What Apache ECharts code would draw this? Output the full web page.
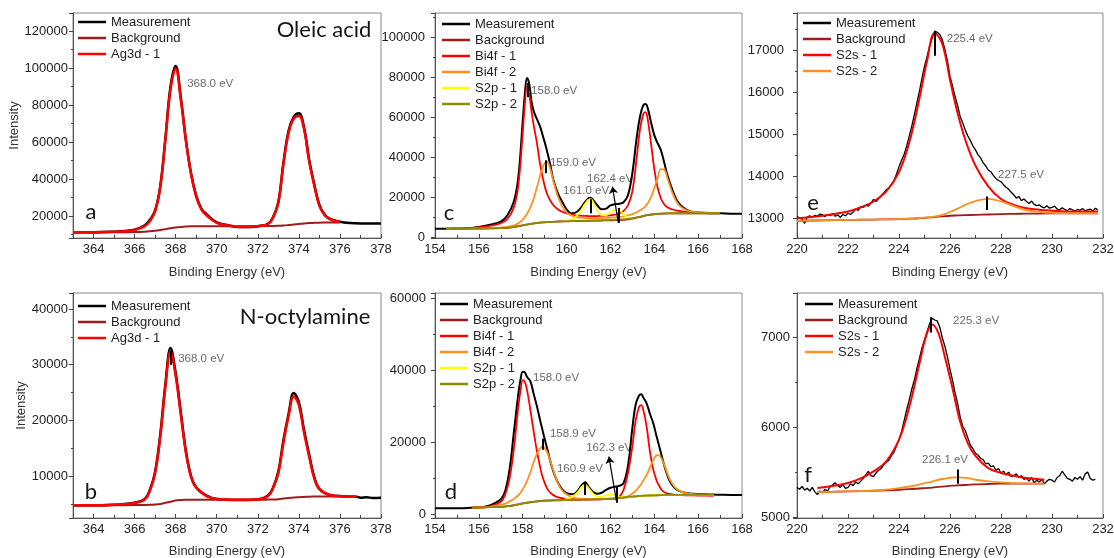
<!DOCTYPE html>
<html>
<head>
<meta charset="utf-8">
<script src="https://cdn.jsdelivr.net/npm/echarts@6/dist/echarts.min.js"></script>
<style>
  html, body { margin: 0; padding: 0; background: #fff; }
  #main { width: 1114px; height: 558px; }
</style>
</head>
<body>
<div id="main"></div>
<script>
// ---------- panel a : Ag3d, oleic acid ----------
const aEnergy = [363, 364, 365, 365.5, 366, 366.5, 366.75, 367, 367.25, 367.5, 367.75, 368, 368.25, 368.5, 368.75, 369, 369.25, 369.5, 370, 370.5,
  371, 371.5, 372, 372.5, 372.75, 373, 373.25, 373.5, 373.75, 374, 374.25, 374.5, 374.75, 375, 375.25, 375.5, 376, 376.5, 377, 378];
const aMeasurement = [11200, 11200, 11500, 11900, 12600, 15000, 18000, 23000, 36000, 62000, 90000, 101000, 84000, 61000, 43000, 31000, 24000, 21000, 16500, 15100,
  14100, 14000, 14500, 15800, 19500, 27500, 49000, 66000, 73500, 75500, 68000, 50500, 37000, 26000, 20800, 18500, 16900, 16200, 16000, 16000];
const aAg3d = [11200, 11200, 11450, 11800, 12400, 14500, 17300, 22500, 35500, 61000, 88500, 99500, 83000, 60500, 42500, 30500, 23500, 20300, 16300, 15000,
  14200, 14100, 14500, 15600, 19200, 27000, 48000, 65000, 72500, 74000, 67000, 49500, 36500, 25500, 20500, 18300, 16700, null, null, null];
const aBackground = [11100, 11100, 11200, 11250, 11300, 11500, 11700, 12000, 12400, 12900, 13400, 13800, 14100, 14300, 14400, 14400, 14400, 14400, 14400, 14400,
  14400, 14450, 14500, 14550, 14600, 14700, 14850, 15100, 15400, 15700, 16000, 16200, 16300, 16400, 16450, 16500, 16500, null, null, null];
const aNotes = ['368.0 eV'];
const aNoteAt = [[368.56, 91350]];

// ---------- panel b : Ag3d, N-octylamine ----------
const bEnergy = [363, 364, 365, 365.5, 366, 366.5, 366.75, 367, 367.25, 367.5, 367.75, 368, 368.25, 368.5, 368.75, 369, 369.5, 370, 371, 372,
  372.5, 372.75, 373, 373.25, 373.5, 373.75, 374, 374.25, 374.5, 374.75, 375, 375.5, 376, 376.5, 376.8, 377, 377.3, 377.6, 378];
const bMeasurement = [4750, 4750, 4850, 5000, 5200, 5900, 7600, 10800, 17500, 26500, 33000, 28500, 21500, 14500, 10000, 8000, 6500, 5900, 5700, 5800,
  6500, 8000, 10800, 16500, 21200, 24900, 23300, 18300, 13900, 9800, 7700, 6600, 6400, 6300, 6300, 6100, 6200, 6050, 6100];
const bAg3d = [4750, 4750, 4850, 4950, 5150, 5800, 7400, 10500, 17000, 26000, 32300, 28000, 21000, 14200, 9800, 7900, 6400, 5900, 5750, 5800,
  6400, 7900, 10500, 16000, 20800, 24300, 22700, 17800, 13500, 9600, 7700, 6600, 6400, 6300, 6300, null, null, null, null];
const bBackground = [4700, 4700, 4750, 4780, 4800, 4820, 4850, 4900, 5000, 5200, 5400, 5600, 5700, 5750, 5750, 5750, 5750, 5750, 5750, 5750,
  5780, 5800, 5850, 5950, 6050, 6150, 6200, 6250, 6300, 6320, 6330, 6340, 6350, 6350, 6350, null, null, null, null];
const bNotes = ['368.0 eV'];
const bNoteAt = [[368.12, 31090]];
const bTicks = [[367.76, 30000, 32500]];

// ---------- panel c : Bi4f / S2p, oleic acid ----------
const cEnergy = [154, 154.5, 155, 155.5, 156, 156.5, 157, 157.3, 157.6, 157.8, 158.0, 158.1, 158.2, 158.3, 158.4, 158.5, 158.65, 158.8, 158.95, 159.1,
  159.25, 159.4, 159.6, 159.8, 160.0, 160.2, 160.4, 160.6, 160.8, 161.0, 161.1, 161.2, 161.4, 161.6, 161.8, 162.0, 162.2, 162.4, 162.6, 162.8,
  163.0, 163.2, 163.35, 163.5, 163.6, 163.7, 163.85, 164.0, 164.15, 164.3, 164.45, 164.6, 164.8, 165.0, 165.2, 165.5, 165.8, 166.2, 166.6, 167.0,
  167.5, 168.0];
const cMeasurement = [4300, 4300, 4400, 4500, 5200, 6300, 7800, 11000, 18000, 30000, 58000, 72000, 79500, 76500, 68000, 63000, 59000, 55000, 49500, 43500,
  36500, 28600, 22000, 17800, 14000, 12000, 12300, 14000, 17000, 19500, 19800, 18800, 16000, 14000, 14300, 15900, 16500, 16800, 17500, 21000,
  32000, 50000, 60300, 66000, 66500, 64500, 57500, 51000, 47000, 43500, 37500, 31000, 24500, 19000, 16000, 13600, 12500, 12200, 12000, 12000,
  11800, 11700];
const cBi4f1 = [null, 4300, 4350, 4450, 4900, 5700, 7000, 9200, 15000, 26000, 52000, 67000, 75300, 71000, 63000, 56000, 47000, 36000, 28000, 22000,
  18500, 16000, 14000, 12800, 12000, 11400, 11000, 10800, 10700, 10600, 10600, 10600, 10600, 10700, 10800, 11000, 11300, 11900, 13200, 16000,
  23000, 40000, 54000, 61500, 62500, 59000, 47000, 34000, 25000, 19500, 16500, 15000, 14000, 13400, 13000, 12600, 12400, 12200, 12100, 12050,
  null, null];
const cBi4f2 = [null, 4300, 4300, 4350, 4400, 4550, 4850, 5200, 6000, 7000, 8800, 10200, 11800, 13800, 16300, 19300, 25000, 31000, 36000, 37800,
  34500, 28000, 20500, 15500, 12500, 11000, 10200, 9800, 9600, 9500, 9500, 9500, 9500, 9600, 9700, 9800, 10000, 10200, 10500, 11000,
  11600, 12500, 13500, 14500, 15500, 17000, 20000, 24500, 29500, 34000, 33800, 29500, 23000, 18000, 15300, 13400, 12700, 12400, 12200, 12100,
  null, null];
const cS2p1 = [null, null, null, null, null, null, null, null, null, null, null, null, null, null, null, null, null, null, null, null,
  null, null, null, 8000, 8300, 8800, 10000, 12500, 16000, 18800, 19000, 17800, 13500, 11000, 11000, 12500, 13600, 13400, 11500, 9800,
  9300, null, null, null, null, null, null, null, null, null, null, null, null, null, null, null, null, null, null, null,
  null, null];
const cS2p2 = [null, 4300, 4300, 4350, 4400, 4500, 4650, 4800, 5200, 5600, 6000, 6200, 6400, 6600, 6800, 7000, 7200, 7400, 7500, 7600,
  7700, 7800, 7900, 8000, 8050, 8100, 8150, 8200, 8250, 8300, 8320, 8350, 8400, 8500, 8600, 8700, 8800, 8900, 9050, 9200,
  9500, 9900, 10300, 10700, 11000, 11200, 11400, 11600, 11700, 11800, 11900, 11950, 12000, 12000, 12000, 12000, 12000, 12000, 12000, 12000,
  null, null];
const cBackground = [null, 4250, 4250, 4300, 4350, 4450, 4600, 4750, 5150, 5550, 5950, 6150, 6350, 6550, 6750, 6950, 7150, 7350, 7450, 7550,
  7650, 7750, 7850, 7950, 8000, 8050, 8100, 8150, 8200, 8250, 8270, 8300, 8350, 8400, 8450, 8500, 8550, 8600, 8700, 8900,
  9300, 9800, 10200, 10600, 10900, 11100, 11300, 11500, 11650, 11750, 11850, 11900, 11950, 11950, 11950, 11950, 11950, 11950, 11950, 11950,
  null, null];
const cNotes = ['158.0 eV', '159.0 eV', '161.0 eV', '162.4 eV'];
const cNoteAt = [[158.38, 73150], [159.24, 37150], [159.84, 23300], [160.93, 29150]];
const cTicks = [[158.23, 70000, 77000], [159.05, 32000, 38500], [161.1, 12000, 19000], [162.36, 7300, 14600]];
const cArrow = [[162.36, 7300], [162.09, 25300]];

// ---------- panel d : Bi4f / S2p, N-octylamine ----------
const dEnergy = [154, 154.5, 155, 155.5, 155.7, 156, 156.5, 157, 157.2, 157.4, 157.6, 157.8, 157.9, 158.0, 158.1, 158.2, 158.35, 158.5, 158.65, 158.8,
  158.9, 159.0, 159.15, 159.3, 159.5, 159.7, 159.9, 160.1, 160.3, 160.5, 160.7, 160.85, 161.0, 161.2, 161.4, 161.6, 161.8, 162.0, 162.2, 162.4,
  162.6, 162.8, 163.0, 163.15, 163.3, 163.4, 163.5, 163.65, 163.8, 163.95, 164.1, 164.2, 164.35, 164.5, 164.7, 164.9, 165.1, 165.4, 165.8, 166.2,
  166.7, 167.0, 167.5, 168.0];
const dMeasurement = [1700, 1700, 1700, 1750, 1850, 1900, 2500, 4200, 6500, 12500, 23000, 33500, 37500, 39700, 39500, 38200, 37000, 33500, 30000, 26000,
  23500, 21000, 17500, 13800, 10200, 7800, 6300, 5700, 5600, 6500, 8200, 8900, 7700, 6300, 5700, 6000, 6800, 7400, 7700, 7900,
  8700, 13500, 24000, 30500, 33000, 33400, 32500, 30900, 28000, 25400, 21800, 19500, 16000, 12600, 9300, 7500, 6600, 6000, 5700, 5570,
  5500, 5450, 5400, 5400];
const dBi4f1 = [null, null, null, null, 1850, 1900, 2200, 3500, 5500, 10000, 18500, 30000, 34500, 37300, 36800, 34500, 29000, 23000, 17500, 13000,
  10500, 8800, 6800, 5800, 5000, 4600, 4400, 4300, 4250, 4200, 4200, 4200, 4200, 4200, 4200, 4200, 4250, 4300, 4400, 4800,
  6800, 11500, 19000, 26000, 29800, 30400, 29000, 24500, 17500, 12500, 9500, 8200, 6700, 6000, 5700, 5500, 5400, 5300, 5250, 5200,
  5150, null, null, null];
const dBi4f2 = [null, null, null, null, 1850, 1900, 2100, 2600, 3000, 3600, 4300, 5300, 6000, 7000, 8000, 9300, 11700, 14500, 16800, 18400,
  18850, 18500, 16800, 14000, 10300, 7500, 6000, 5200, 4700, 4450, 4350, 4300, 4300, 4300, 4300, 4300, 4350, 4400, 4500, 4600,
  4800, 5100, 5800, 6500, 7600, 8400, 9400, 11000, 13000, 15000, 16400, 16500, 15300, 13000, 9800, 7800, 6700, 6000, 5600, 5450,
  5400, null, null, null];
const dS2p1 = [null, null, null, null, null, null, null, null, null, null, null, null, null, null, null, null, null, null, null, null,
  null, null, null, null, null, null, 4100, 4400, 5000, 6100, 7700, 8200, 7300, 5800, 4900, 4900, 5300, 5600, 5200, 4800,
  4750, 4850, 4950, 5050, 5120, 5170, 5200, 5230, 5260, 5290, 5320, 5340, 5370, 5390, 5400, 5400, 5400, 5400, 5400, 5400,
  5400, null, null, null];
const dS2p2 = [null, null, null, null, 1860, 1900, 2000, 2100, 2200, 2350, 2550, 2800, 2930, 3050, 3150, 3250, 3380, 3500, 3620, 3720,
  3800, 3830, 3860, 3880, 3900, 3950, 3980, 4000, 4030, 4070, 4100, 4130, 4150, 4180, 4210, 4250, 4300, 4350, 4450, 4600,
  4740, 4850, 4950, 5030, 5100, 5130, 5200, 5230, 5260, 5290, 5310, 5330, 5360, 5390, 5400, 5400, 5400, 5400, 5400, 5400,
  5400, null, null, null];
const dBackground = [null, null, null, null, 1840, 1880, 1980, 2080, 2180, 2330, 2530, 2780, 2900, 3020, 3120, 3220, 3350, 3470, 3590, 3690,
  3770, 3800, 3830, 3850, 3870, 3920, 3950, 3970, 4000, 4040, 4070, 4100, 4120, 4150, 4180, 4220, 4260, 4300, 4380, 4500,
  4650, 4800, 4920, 5000, 5070, 5110, 5180, 5210, 5240, 5270, 5290, 5310, 5340, 5370, 5380, 5380, 5380, 5380, 5380, 5380,
  5380, null, null, null];
const dNotes = ['158.0 eV', '158.9 eV', '160.9 eV', '162.3 eV'];
const dNoteAt = [[158.47, 37900], [159.24, 22290], [159.56, 12540], [160.89, 18390]];
const dTicks = [[158.92, 18000, 21000], [160.81, 5400, 9100], [162.28, 3250, 7700]];
const dArrow = [[162.28, 3530], [161.93, 16070]];

// ---------- panel e : S2s, oleic acid ----------
const eEnergy = [220.0, 220.1, 220.2, 220.3, 220.4, 220.5, 220.6, 220.7, 220.8, 220.9, 221.0, 221.1, 221.2, 221.3, 221.4, 221.5, 221.6, 221.7, 221.8, 221.9,
  222.0, 222.1, 222.2, 222.3, 222.4, 222.5, 222.6, 222.7, 222.8, 222.9, 223.0, 223.1, 223.2, 223.3, 223.4, 223.5, 223.6, 223.7, 223.8, 223.9,
  224.0, 224.1, 224.2, 224.3, 224.4, 224.5, 224.6, 224.7, 224.8, 224.9, 225.0, 225.1, 225.2, 225.3, 225.4, 225.5, 225.6, 225.7, 225.8, 225.9,
  226.0, 226.1, 226.2, 226.3, 226.4, 226.5, 226.6, 226.7, 226.8, 226.9, 227.0, 227.1, 227.2, 227.3, 227.4, 227.5, 227.6, 227.7, 227.8, 227.9,
  228.0, 228.1, 228.2, 228.3, 228.4, 228.5, 228.6, 228.7, 228.8, 228.9, 229.0, 229.1, 229.2, 229.3, 229.4, 229.5, 229.6, 229.7, 229.8, 229.9,
  230.0, 230.1, 230.2, 230.3, 230.4, 230.5, 230.6, 230.7, 230.8, 230.9, 231.0, 231.1, 231.2, 231.3, 231.4, 231.5, 231.6, 231.7, 231.8];
const eMeasurement = [13040, 13010, 12980, 12880, 13030, 13060, 13020, 13070, 13050, 13100, 13080, 13040, 13090, 13060, 13110, 13050, 13080, 13020, 13090, 13060,
  13120, 13090, 13150, 13220, 13190, 13280, 13260, 13310, 13290, 13360, 13450, 13400, 13470, 13540, 13600, 13680, 13720, 13810, 13900, 14050,
  14230, 14380, 14520, 14720, 14950, 15190, 15460, 15740, 16020, 16330, 16620, 16850, 17100, 17290, 17460, 17430, 17380, 17250, 17020, 16750,
  16380, 16150, 15900, 15680, 15420, 15270, 15100, 14960, 14850, 14720, 14630, 14510, 14440, 14320, 14250, 14150, 14110, 14020, 13950, 13900,
  13870, 13800, 13740, 13690, 13620, 13560, 13480, 13520, 13420, 13460, 13400, 13350, 13410, 13330, 13300, 13320, 13270, 13250, 13300, 13240,
  13260, 13290, 13220, 13200, 13250, 13210, 13180, 13230, 13200, 13170, 13210, 13190, 13230, 13180, 13200, 13220, 13170, 13240, 13200];
const eFitEnergy = [220, 221, 222, 222.5, 223, 223.5, 224, 224.4, 224.8, 225.1, 225.4, 225.7, 226.0, 226.3, 226.6, 227, 227.5, 228, 228.5, 229, 230, 231, 231.8];
const eS2s1 = [13000, 13060, 13160, 13260, 13400, 13640, 14100, 14800, 15850, 16750, 17410, 17150, 16300, 15500, 14870, 14250, 13760, 13460, 13320, 13240, 13180, 13160, 13160];
const eS2s2 = [12940, 12950, 12960, 12965, 12970, 12975, 12980, 12990, 13005, 13020, 13040, 13080, 13150, 13230, 13320, 13410, 13460, 13400, 13290, 13190, 13130, 13120, 13120];
const eBackground = [12940, 12950, 12960, 12965, 12970, 12975, 12980, 12990, 13000, 13015, 13030, 13045, 13060, 13068, 13075, 13080, 13090, 13100, 13105, 13110, 13115, 13120, 13120];
const eNotes = ['225.4 eV', '227.5 eV'];
const eNoteAt = [[225.87, 17270], [227.88, 14030]];
const eTicks = [[225.41, 16870, 17450], [227.46, 13200, 13520]];

// ---------- panel f : S2s, N-octylamine ----------
const fEnergy = [220.0, 220.1, 220.2, 220.3, 220.4, 220.5, 220.6, 220.7, 220.8, 220.9, 221.0, 221.1, 221.2, 221.3, 221.4, 221.5, 221.6, 221.7, 221.8, 221.9,
  222.0, 222.1, 222.2, 222.3, 222.4, 222.5, 222.6, 222.7, 222.8, 222.9, 223.0, 223.1, 223.2, 223.3, 223.4, 223.5, 223.6, 223.7, 223.8, 223.9,
  224.0, 224.1, 224.2, 224.3, 224.4, 224.5, 224.6, 224.7, 224.8, 224.9, 225.0, 225.1, 225.2, 225.3, 225.4, 225.5, 225.6, 225.7, 225.8, 225.9,
  226.0, 226.1, 226.2, 226.3, 226.4, 226.5, 226.6, 226.7, 226.8, 226.9, 227.0, 227.1, 227.2, 227.3, 227.4, 227.5, 227.6, 227.7, 227.8, 227.9,
  228.0, 228.1, 228.2, 228.3, 228.4, 228.5, 228.6, 228.7, 228.8, 228.9, 229.0, 229.1, 229.2, 229.3, 229.4, 229.5, 229.6, 229.7, 229.8, 229.9,
  230.0, 230.1, 230.2, 230.3, 230.4, 230.5, 230.6, 230.7, 230.8, 230.9, 231.0, 231.1, 231.2, 231.3, 231.4, 231.5, 231.6, 231.7];
const fMeasurement = [5330, 5310, 5340, 5300, 5320, 5290, 5330, 5280, 5250, 5290, 5270, 5310, 5290, 5340, 5360, 5380, 5350, 5330, 5360, 5320,
  5330, 5370, 5350, 5390, 5370, 5400, 5430, 5470, 5510, 5460, 5450, 5490, 5520, 5540, 5580, 5610, 5630, 5680, 5720, 5790,
  5860, 5950, 6070, 6190, 6300, 6420, 6520, 6650, 6760, 6880, 6970, 7060, 7150, 7210, 7190, 7180, 7110, 6990, 6900, 6780,
  6640, 6520, 6380, 6260, 6110, 6010, 5960, 5880, 5800, 5760, 5710, 5690, 5650, 5640, 5590, 5600, 5560, 5570, 5520, 5540,
  5490, 5510, 5470, 5500, 5450, 5460, 5480, 5440, 5460, 5420, 5430, 5400, 5440, 5380, 5410, 5390, 5420, 5370, 5400, 5420,
  5410, 5390, 5440, 5460, 5510, 5470, 5430, 5420, 5400, 5440, 5420, 5450, 5410, 5480, 5500, 5430, 5410, 5420];
const fFitEnergy = [220.8, 221.5, 222, 222.5, 223, 223.5, 224, 224.4, 224.8, 225.05, 225.3, 225.55, 225.8, 226.1, 226.4, 226.7, 227, 227.5, 228, 228.5, 229, 229.7];
const fS2s1 = [5323, 5350, 5379, 5430, 5508, 5620, 5861, 6220, 6700, 7000, 7140, 7040, 6780, 6430, 6060, 5820, 5680, 5545, 5490, 5460, 5434, 5416];
const fS2s2 = [5278, 5283, 5287, 5290, 5293, 5305, 5323, 5340, 5362, 5380, 5395, 5415, 5428, 5440, 5442, 5432, 5415, 5397, 5385, 5378, 5374, 5371];
const fBackground = [5278, 5282, 5285, 5288, 5293, 5298, 5304, 5310, 5318, 5323, 5328, 5335, 5342, 5349, 5354, 5359, 5364, 5368, 5371, 5371, 5371, 5371];
const fNotes = ['225.3 eV', '226.1 eV'];
const fNoteAt = [[226.12, 7186], [224.9, 5638]];
const fTicks = [[225.26, 7050, 7220], [226.29, 5370, 5530]];

// ---------- styles ----------
const FONT = 'Liberation Sans, Arial, sans-serif';
const C_MEAS = '#000000';
const C_BG = '#a01c1c';
const C_RED = '#ff0000';
const C_ORANGE = '#ff9020';
const C_YELLOW = '#ffff00';
const C_OLIVE = '#8c8c00';

// grid boxes in pixels [left, top, width, height]
const boxes = [
  [73, 13, 308, 225],   // a
  [73, 293, 308, 225],  // b
  [435, 13, 307, 225],  // c
  [435, 293, 307, 225], // d
  [797, 13, 306, 225],  // e
  [797, 293, 306, 225]  // f
];

function curve(g, name, energy, values, color, width, smooth) {
  return {
    type: 'line',
    name: name,
    xAxisIndex: g,
    yAxisIndex: g,
    data: energy.map((x, i) => [x, values[i]]).filter(p => p[1] != null),
    symbol: 'none',
    smooth: smooth,
    lineStyle: { color: color, width: width },
    itemStyle: { color: color },
    silent: true,
    animation: false
  };
}

// peak labels, small marker lines and arrows
function notes(g, labels, at, ticks, arrows) {
  const lines = ticks.map(t => [{ coord: [t[0], t[1]] }, { coord: [t[0], t[2]] }]);
  (arrows || []).forEach(a => {
    lines.push([
      { coord: a[0], symbol: 'none', lineStyle: { width: 1.2 } },
      { coord: a[1], symbol: 'arrow', symbolSize: 7 }
    ]);
  });
  return {
    type: 'scatter',
    xAxisIndex: g,
    yAxisIndex: g,
    symbolSize: 0.1,
    itemStyle: { color: 'transparent' },
    silent: true,
    animation: false,
    data: at.map((p, i) => [p[0], p[1], labels[i]]),
    label: {
      show: true,
      position: 'right',
      distance: 0,
      formatter: p => p.data[2],
      fontSize: 11.5,
      color: '#444',
      fontFamily: FONT
    },
    markLine: {
      silent: true,
      animation: false,
      symbol: 'none',
      label: { show: false },
      lineStyle: { color: '#000', width: 2, type: 'solid' },
      data: lines
    }
  };
}

function xAxis(g, min, max, step) {
  return {
    gridIndex: g,
    type: 'value',
    min: min,
    max: max,
    minInterval: step,
    maxInterval: step,
    name: 'Binding Energy (eV)',
    nameLocation: 'middle',
    nameGap: g % 2 === 0 ? 28 : 27,
    nameTextStyle: { fontSize: 13, color: '#333', fontFamily: FONT },
    axisLine: { show: true, onZero: false, lineStyle: { color: '#555', width: 1 } },
    axisTick: { show: true, inside: true, length: 4, lineStyle: { color: '#444' } },
    minorTick: { show: true, splitNumber: 2, length: 3, lineStyle: { color: '#444' } },
    axisLabel: {
      fontSize: 13, color: '#222', margin: 5, fontFamily: FONT,
      showMinLabel: min % step === 0,
      formatter: v => String(v)
    },
    splitLine: { show: false }
  };
}

function yAxis(g, min, max, step, margin, name) {
  return {
    gridIndex: g,
    type: 'value',
    min: min,
    max: max,
    minInterval: step,
    maxInterval: step,
    name: name || '',
    nameLocation: 'middle',
    nameGap: 39,
    nameTextStyle: { fontSize: 13, color: '#333', fontFamily: FONT },
    axisLine: { show: true, onZero: false, lineStyle: { color: '#555', width: 1 } },
    axisTick: { show: true, inside: false, length: 4, lineStyle: { color: '#444' } },
    minorTick: { show: true, splitNumber: 2, length: 2, lineStyle: { color: '#444' } },
    axisLabel: {
      fontSize: 13, color: '#222', margin: margin, fontFamily: FONT,
      showMinLabel: false, showMaxLabel: false,
      formatter: v => String(v)
    },
    splitLine: { show: false }
  };
}

function legend(left, top, names) {
  return {
    orient: 'vertical',
    left: left,
    top: top,
    padding: 0,
    icon: 'rect',
    itemWidth: 28,
    itemHeight: 2.5,
    itemGap: 2,
    selectedMode: false,
    data: names,
    textStyle: { fontSize: 13, color: '#222', fontFamily: FONT, lineHeight: 14 }
  };
}

function label(x, y, text) {
  return {
    type: 'text', x: x, y: y, silent: true,
    style: { text: text, fontSize: 22, fontFamily: 'Lato', fill: '#151515', align: 'center', verticalAlign: 'middle' }
  };
}

const bi = ['Measurement', 'Background', 'Bi4f - 1', 'Bi4f - 2', 'S2p - 1', 'S2p - 2'];
const s2s = ['Measurement', 'Background', 'S2s - 1', 'S2s - 2'];
const ag = ['Measurement', 'Background', 'Ag3d - 1'];

const option = {
  backgroundColor: '#ffffff',
  animation: false,
  grid: boxes.map(b => ({
    left: b[0], top: b[1], width: b[2], height: b[3],
    show: true, borderColor: '#8a8a8a', borderWidth: 1,
    containLabel: false, outerBoundsMode: 'none'
  })),
  xAxis: [
    xAxis(0, 363, 378, 2),
    xAxis(1, 363, 378, 2),
    xAxis(2, 154, 168, 2),
    xAxis(3, 154, 168, 2),
    xAxis(4, 220, 232, 2),
    xAxis(5, 220, 232, 2)
  ],
  yAxis: [
    yAxis(0, 8100, 129700, 20000, 5, 'Intensity'),
    yAxis(1, 2470, 42870, 10000, 5, 'Intensity'),
    yAxis(2, -350, 112000, 20000, 10),
    yAxis(3, -1020, 61580, 20000, 9),
    yAxis(4, 12530, 17890, 1000, 13),
    yAxis(5, 4990, 7490, 1000, 7)
  ],
  legend: [
    legend(78, 15, ag),
    legend(78, 299, ag),
    legend(442, 17, bi),
    legend(440, 297, bi),
    legend(803, 16, s2s),
    legend(805, 297, s2s)
  ],
  graphic: [
    label(324, 30, 'Oleic acid'),
    label(305, 317, 'N-octylamine'),
    label(91, 212, 'a'),
    label(91, 492, 'b'),
    label(449, 213, 'c'),
    label(451, 492, 'd'),
    label(813, 203, 'e'),
    label(808, 475, 'f')
  ],
  series: [
    // a
    curve(0, 'Measurement', aEnergy, aMeasurement, C_MEAS, 2.5, 0.4),
    curve(0, 'Background', aEnergy, aBackground, C_BG, 2, 0.4),
    curve(0, 'Ag3d - 1', aEnergy, aAg3d, C_RED, 2.5, 0.4),
    notes(0, aNotes, aNoteAt, []),
    // b
    curve(1, 'Measurement', bEnergy, bMeasurement, C_MEAS, 2.5, 0.4),
    curve(1, 'Background', bEnergy, bBackground, C_BG, 2, 0.4),
    curve(1, 'Ag3d - 1', bEnergy, bAg3d, C_RED, 2.5, 0.4),
    notes(1, bNotes, bNoteAt, bTicks),
    // c
    curve(2, 'Measurement', cEnergy, cMeasurement, C_MEAS, 2, 0.4),
    curve(2, 'Background', cEnergy, cBackground, C_BG, 1.8, 0.4),
    curve(2, 'Bi4f - 1', cEnergy, cBi4f1, C_RED, 1.8, 0.4),
    curve(2, 'Bi4f - 2', cEnergy, cBi4f2, C_ORANGE, 1.8, 0.4),
    curve(2, 'S2p - 1', cEnergy, cS2p1, C_YELLOW, 1.8, 0.4),
    curve(2, 'S2p - 2', cEnergy, cS2p2, C_OLIVE, 1.8, 0.4),
    notes(2, cNotes, cNoteAt, cTicks, [cArrow]),
    // d
    curve(3, 'Measurement', dEnergy, dMeasurement, C_MEAS, 2, 0.4),
    curve(3, 'Background', dEnergy, dBackground, C_BG, 1.8, 0.4),
    curve(3, 'Bi4f - 1', dEnergy, dBi4f1, C_RED, 1.8, 0.4),
    curve(3, 'Bi4f - 2', dEnergy, dBi4f2, C_ORANGE, 1.8, 0.4),
    curve(3, 'S2p - 1', dEnergy, dS2p1, C_YELLOW, 1.8, 0.4),
    curve(3, 'S2p - 2', dEnergy, dS2p2, C_OLIVE, 1.8, 0.4),
    notes(3, dNotes, dNoteAt, dTicks, [dArrow]),
    // e
    curve(4, 'Measurement', eEnergy, eMeasurement, C_MEAS, 1.3, false),
    curve(4, 'Background', eFitEnergy, eBackground, C_BG, 1.8, 0.4),
    curve(4, 'S2s - 1', eFitEnergy, eS2s1, C_RED, 2, 0.4),
    curve(4, 'S2s - 2', eFitEnergy, eS2s2, C_ORANGE, 1.8, 0.4),
    notes(4, eNotes, eNoteAt, eTicks),
    // f
    curve(5, 'Measurement', fEnergy, fMeasurement, C_MEAS, 1.3, false),
    curve(5, 'Background', fFitEnergy, fBackground, C_BG, 1.8, 0.4),
    curve(5, 'S2s - 1', fFitEnergy, fS2s1, C_RED, 2, 0.4),
    curve(5, 'S2s - 2', fFitEnergy, fS2s2, C_ORANGE, 1.8, 0.4),
    notes(5, fNotes, fNoteAt, fTicks)
  ]
};

const chart = echarts.init(document.getElementById('main'), null, { renderer: 'canvas' });
chart.setOption(option);
</script>
</body>
</html>
